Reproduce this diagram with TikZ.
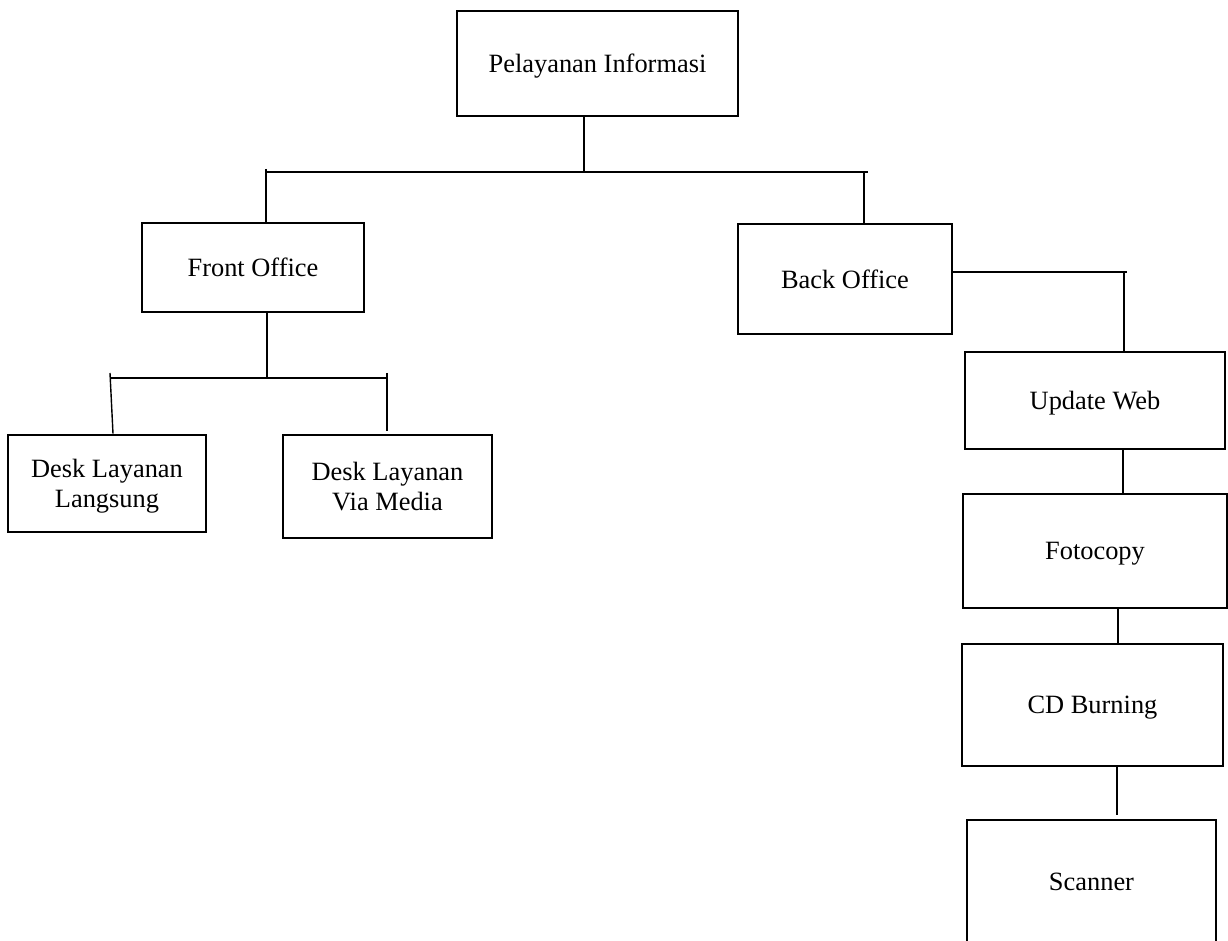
\documentclass[tikz,border=0pt]{standalone}
\usepackage{fontspec}
\setmainfont{Liberation Serif}
\begin{document}
\begin{tikzpicture}[x=0.5pt, y=-0.5pt,
		unit/.style={draw, line width=1.4pt, inner sep=0pt, align=center, text depth=0pt, font=\fontsize{13.2}{15.2}\selectfont},
		link/.style={line width=0.7pt}]
		\clip (0, 0) rectangle (1228, 941);
		\node [unit, minimum width=140.5pt, minimum height=52.5pt] (info) at (597.5, 63.5) {Pelayanan Informasi};
		\node [unit, minimum width=111pt, minimum height=44.5pt] (front) at (253, 267.5) {Front Office};
		\node [unit, minimum width=107pt, minimum height=55pt] (back) at (845, 279) {Back Office};
		\node [unit, minimum width=99pt, minimum height=48.5pt] (langsung) at (107, 483.5) {Desk Layanan\\Langsung};
		\node [unit, minimum width=104.5pt, minimum height=51.5pt] (media) at (387.5, 486.5) {Desk Layanan\\Via Media};
		\node [unit, minimum width=130pt, minimum height=48.5pt] (web) at (1095, 400.5) {Update Web};
		\node [unit, minimum width=132pt, minimum height=57pt] (fotocopy) at (1095, 551) {Fotocopy};
		\node [unit, minimum width=130.5pt, minimum height=61pt] (cd) at (1092.5, 705) {CD Burning};
		\node [unit, minimum width=124.5pt, minimum height=90pt, text height=9pt, text depth=29pt] (scanner) at (1091.5, 910) {Scanner};
		\coordinate (hub) at (584, 172);
		\coordinate (busL) at (266, 172);
		\coordinate (busR) at (868, 172);
		\coordinate (dropR) at (864, 172);
		\coordinate (hub2) at (267, 378);
		\coordinate (bus2L) at (110, 378);
		\coordinate (bus2R) at (387, 378);
		\coordinate (elbow) at (1124, 272);
		\draw [link] (info.south -| hub) -- (hub);
		\draw [link] (busL) -- (busR);
		\draw [link] ([yshift=1.5pt]busL) -- (front.north -| busL);
		\draw [link] (dropR) -- (back.north -| dropR);
		\draw [link] (front.south -| hub2) -- (hub2);
		\draw [link] (bus2L) -- (bus2R);
		\draw [link] ([yshift=2.5pt]bus2L) -- ([xshift=1.5pt]langsung.north -| bus2L);
		\draw [link] ([yshift=2.5pt]bus2R) -- ([yshift=1.5pt]media.north -| bus2R);
		\draw [link] (back.east |- elbow) -- ([xshift=1.5pt]elbow);
		\draw [link] (elbow) -- (web.north -| elbow);
		\draw [link] ([xshift=14pt]web.south) -- ([xshift=14pt]web.south |- fotocopy.north);
		\draw [link] ([xshift=11.5pt]fotocopy.south) -- ([xshift=11.5pt]fotocopy.south |- cd.north);
		\draw [link] ([xshift=12.25pt]cd.south) -- ([xshift=12.25pt, yshift=2pt]cd.south |- scanner.north);
	\end{tikzpicture}
\end{document}
